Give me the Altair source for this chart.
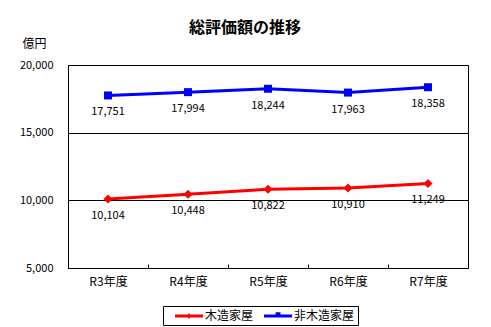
import altair as alt
import pandas as pd

years = ["R3年度", "R4年度", "R5年度", "R6年度", "R7年度"]
series_names = ["木造家屋", "非木造家屋"]
wood = [10104, 10448, 10822, 10910, 11249]
nonwood = [17751, 17994, 18244, 17963, 18358]
colors = ["#ff0000", "#0000ff"]

rows = []
for y, v in zip(years, wood):
    rows.append({"year": y, "series": series_names[0], "value": v})
for y, v in zip(years, nonwood):
    rows.append({"year": y, "series": series_names[1], "value": v})
df = pd.DataFrame(rows)

FONT = "Noto Sans CJK JP"

x_enc = alt.X(
    "year:N", sort=years, title=None,
    scale=alt.Scale(paddingInner=0, paddingOuter=0),
    axis=alt.Axis(labelAngle=0, tickBand="extent", ticks=True, tickSize=4,
                  tickColor="black", domain=False, offset=-4, labelPadding=8,
                  labelFontSize=12, labelColor="black", labelFont=FONT, grid=False),
)
y_enc = alt.Y(
    "value:Q", title="億円",
    scale=alt.Scale(domain=[5000, 20000], nice=False, zero=False),
    axis=alt.Axis(values=[5000, 10000, 15000, 20000], format=",.0f", grid=True,
                  gridColor="black", gridWidth=1, gridOpacity=1, ticks=False,
                  domain=False, labelPadding=15, labelFontSize=11,
                  labelColor="black", labelFont=FONT, titleAngle=0,
                  titleAlign="left", titleBaseline="middle", titleX=-46,
                  titleY=-22, titleFontSize=12, titleFontWeight="normal",
                  titleFont=FONT, titleColor="black"),
)
color_scale = alt.Scale(domain=series_names, range=colors)

# legend symbols: thick line with a small marker (unit = 7px), drawn to the right of the symbol centre
red_path = "M0.29,-0.2H4.29V0.2H0.29Z M2.29,-0.45L2.54,0L2.29,0.45L2.04,0Z"
blue_path = "M0.29,-0.2H4.29V0.2H0.29Z M1.94,-0.55H2.64V0.2H1.94Z"

base = alt.Chart(df)
wood_base = base.transform_filter(alt.datum.series == series_names[0])
nonwood_base = base.transform_filter(alt.datum.series == series_names[1])

line_wood = wood_base.mark_line(strokeWidth=3, color=colors[0]).encode(x=x_enc, y=y_enc)
line_nonwood = nonwood_base.mark_line(strokeWidth=3, color=colors[1]).encode(x=x_enc, y=y_enc)

pts_wood = wood_base.mark_point(
    filled=True, opacity=1, shape="diamond", size=81, color=colors[0]
).encode(x=x_enc, y=y_enc)

pts_nonwood = nonwood_base.mark_point(
    filled=True, opacity=1, shape="square", size=64, color=colors[1]
).encode(x=x_enc, y=y_enc)

leg = alt.Legend(
    orient="none", legendX=95, legendY=241, direction="horizontal",
    strokeColor="black", padding=3, cornerRadius=0, symbolSize=196,
    labelFontSize=12, labelFont=FONT, labelColor="black",
    columnPadding=1, labelOffset=25, symbolOpacity=1,
    symbolStrokeWidth=0,
)

legend_layer = base.mark_point(filled=True, opacity=0, size=196).encode(
    x=x_enc, y=y_enc,
    color=alt.Color("series:N", scale=color_scale, title=None, legend=leg),
    shape=alt.Shape("series:N", scale=alt.Scale(domain=series_names, range=[red_path, blue_path]),
                    title=None, legend=leg),
)

labels = base.mark_text(dy=17, fontSize=11, font=FONT, color="black").encode(
    x=x_enc, y=y_enc, text=alt.Text("value:Q", format=","),
)

chart = alt.layer(line_wood, line_nonwood, pts_wood, pts_nonwood, legend_layer, labels).properties(
    width=400, height=203,
    title=alt.TitleParams("総評価額の推移", fontSize=16, fontWeight="bold",
                          font=FONT, color="black", dx=-23, offset=1),
    autosize=alt.AutoSizeParams(type="none"),
    padding={"left": 68, "top": 65, "right": 23, "bottom": 59},
).configure_view(stroke="black", strokeWidth=1)

chart.save("out.html", embed_options={"renderer": "svg", "actions": False})
